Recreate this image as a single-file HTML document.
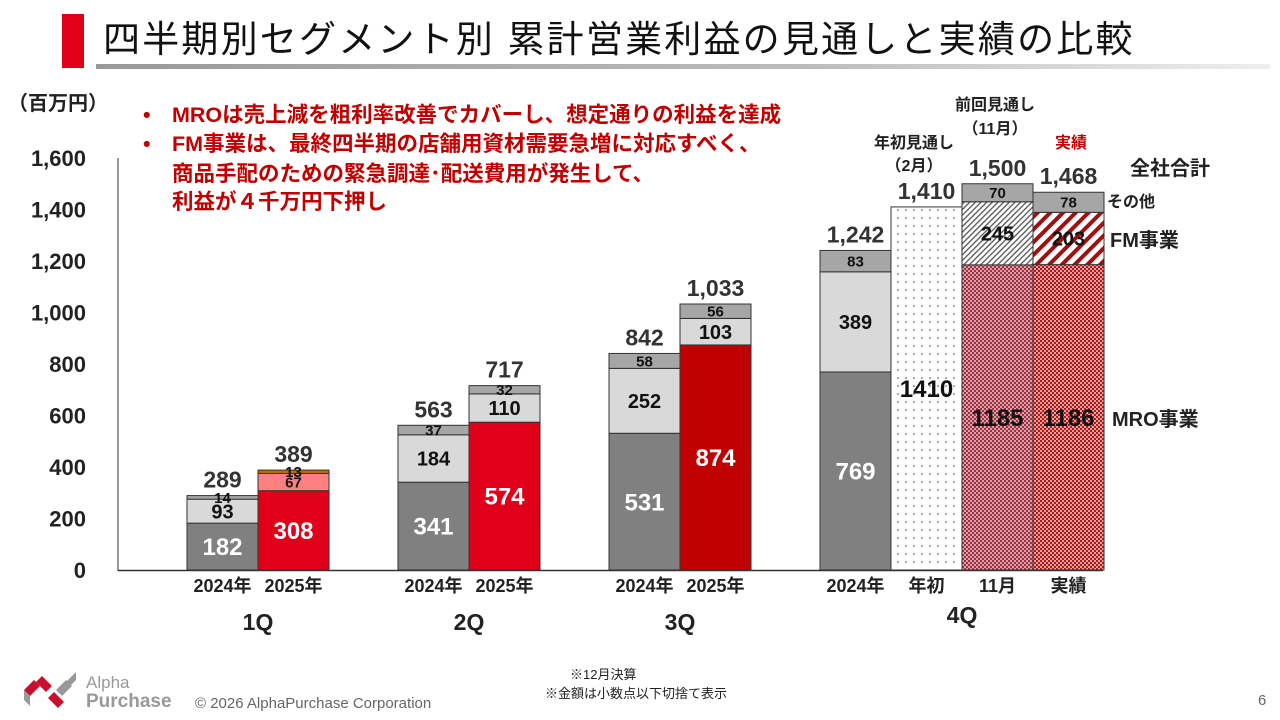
<!DOCTYPE html>
<html><head><meta charset="utf-8"><style>
body{margin:0;background:#fff;}
svg{display:block;font-family:"Liberation Sans","Noto Sans CJK JP",sans-serif;}
</style></head><body>
<svg id="chart" width="1280" height="720" viewBox="0 0 1280 720">
<defs>
<linearGradient id="lg" x1="0" x2="1"><stop offset="0" stop-color="#999"/><stop offset="0.6" stop-color="#bbb"/><stop offset="1" stop-color="#eee"/></linearGradient>
<pattern id="dots" width="8" height="8" patternUnits="userSpaceOnUse"><rect width="8" height="8" fill="#fff"/><circle cx="2" cy="2" r="0.8" fill="#444"/></pattern>
<pattern id="hatchFine" width="4" height="4" patternUnits="userSpaceOnUse" patternTransform="rotate(45)"><rect width="4" height="4" fill="#fff"/><rect width="1.3" height="4" fill="#555"/></pattern>
<pattern id="hatchRed" width="9" height="9" patternUnits="userSpaceOnUse" patternTransform="rotate(45)"><rect width="9" height="9" fill="#fff"/><rect width="4" height="9" fill="#a01010"/></pattern>
<pattern id="checkPink" width="4" height="4" patternUnits="userSpaceOnUse"><rect width="4" height="4" fill="#d8a0a8"/><rect width="2" height="2" fill="#a03040"/><rect x="2" y="2" width="2" height="2" fill="#a03040"/></pattern>
<pattern id="checkRed" width="4" height="4" patternUnits="userSpaceOnUse"><rect width="4" height="4" fill="#e8a0a0"/><rect width="2" height="2" fill="#b01818"/><rect x="2" y="2" width="2" height="2" fill="#b01818"/></pattern>
</defs>
<rect x="62" y="14" width="22" height="54" fill="#e0001a"/>
<text x="103" y="52" font-size="37" letter-spacing="2.2" fill="#111">四半期別セグメント別 累計営業利益の見通しと実績の比較</text>
<rect x="96" y="64" width="1174" height="5" fill="url(#lg)"/>
<text x="8" y="110" font-size="20" font-weight="bold" fill="#222">（百万円）</text>
<g font-size="21.5" font-weight="bold" fill="#c00000">
<text x="143" y="122">•</text><text x="172" y="122">MROは売上減を粗利率改善でカバーし、想定通りの利益を達成</text>
<text x="143" y="151">•</text><text x="172" y="151">FM事業は、最終四半期の店舗用資材需要急増に対応すべく、</text>
<text x="172" y="181">商品手配のための緊急調達･配送費用が発生して、</text>
<text x="172" y="209">利益が４千万円下押し</text>
</g>
<g id="yaxis"></g>
<g id="bars"></g>
<line x1="118" y1="570.5" x2="1103" y2="570.5" stroke="#333" stroke-width="1.5"/>
<line x1="118" y1="158" x2="118" y2="571" stroke="#333" stroke-width="1"/>
<g id="xlabels" font-size="18" font-weight="bold" fill="#222"></g>
<g font-size="16" font-weight="bold" fill="#222" text-anchor="middle">
<text x="914" y="148">年初見通し</text><text x="914" y="171">（2月）</text>
<text x="995" y="110">前回見通し</text><text x="995" y="134">（11月）</text>
<text x="1071" y="148" fill="#c00000">実績</text>
</g>
<g font-size="20" font-weight="bold" fill="#222">
<text x="1130" y="175">全社合計</text>
<text x="1107" y="207" font-size="16">その他</text>
<text x="1110" y="247">FM事業</text>
<text x="1112" y="426">MRO事業</text>
</g>
<g>
<polygon points="24,690 34,680 40,686 30,696" fill="#c8102e"/><polygon points="24,690 30,696 30,706 24,700" fill="#999"/>
<polygon points="42,676 52,686 46,692 36,682" fill="#c8102e"/><polygon points="56,690 66,680 72,686 62,696" fill="#999"/>
<polygon points="48,698 58,708 64,702 54,692" fill="#c8102e"/><polygon points="66,682 76,672 76,680 70,686" fill="#999"/>
<text x="86" y="688" font-size="17" fill="#999">Alpha</text>
<text x="86" y="707" font-size="19" font-weight="bold" fill="#999">Purchase</text>
<text x="195" y="708" font-size="15" fill="#666">© 2026 AlphaPurchase Corporation</text>
</g>
<text x="570" y="679" font-size="13" fill="#222">※12月決算</text>
<text x="545" y="698" font-size="13" fill="#222">※金額は小数点以下切捨て表示</text>
<text x="1258" y="705" font-size="15" fill="#666">6</text>
</svg>
<script>
const yTicks=[0,200,400,600,800,1000,1200,1400,1600];
const yTickLabels=["0","200","400","600","800","1,000","1,200","1,400","1,600"];
const barNames=["1Q-2024","1Q-2025","2Q-2024","2Q-2025","3Q-2024","3Q-2025","4Q-2024","4Q-plan-feb","4Q-plan-nov","4Q-actual"];
const mroValues=[182,308,341,574,531,874,769,1410,1185,1186];
const fmValues=[93,67,184,110,252,103,389,0,245,203];
const otherValues=[14,13,37,32,58,56,83,0,70,78];
const totalLabels=["289","389","563","717","842","1,033","1,242","1,410","1,500","1,468"];
const groupLabels=["1Q","2Q","3Q","4Q"];
const yearLabels=["2024年","2025年","2024年","2025年","2024年","2025年","2024年","年初","11月","実績"];
const NS="http://www.w3.org/2000/svg";
const y0=570,pxPer=412/1600;
const Y=v=>y0-v*pxPer;
const barW=71;
const barX=i=>{const g=Math.floor(i/2);if(i<6)return 187+g*211+(i%2)*barW;return 820+(i-6)*barW;};
const styles=[
 {m:"#808080",f:"#d9d9d9",o:"#a6a6a6",mt:"#fff"},
 {m:"#e0001a",f:"#ff8080",o:"#c07000",mt:"#fff"},
 {m:"#808080",f:"#d9d9d9",o:"#a6a6a6",mt:"#fff"},
 {m:"#e0001a",f:"#d9d9d9",o:"#a6a6a6",mt:"#fff"},
 {m:"#808080",f:"#d9d9d9",o:"#a6a6a6",mt:"#fff"},
 {m:"#c00000",f:"#d9d9d9",o:"#a6a6a6",mt:"#fff"},
 {m:"#808080",f:"#d9d9d9",o:"#a6a6a6",mt:"#fff"},
 {m:"url(#dots)",f:"none",o:"none",mt:"#111"},
 {m:"url(#checkPink)",f:"url(#hatchFine)",o:"#a6a6a6",mt:"#111"},
 {m:"url(#checkRed)",f:"url(#hatchRed)",o:"#a6a6a6",mt:"#111"}];
function el(t,a,p,txt){const e=document.createElementNS(NS,t);for(const k in a)e.setAttribute(k,a[k]);if(txt!==undefined)e.textContent=txt;p.appendChild(e);return e;}
const ya=document.getElementById('yaxis');
yTicks.forEach((v,i)=>{const t=el('text',{x:86,y:Y(v)+8,'font-size':22,'font-weight':'bold','text-anchor':'end',fill:'#222'},ya,yTickLabels[i]);

});
const bg=document.getElementById('bars');
barNames.forEach((n,i)=>{
 const x=barX(i),s=styles[i];
 const segs=[[mroValues[i],s.m,'mro'],[fmValues[i],s.f,'fm'],[otherValues[i],s.o,'other']];
 let base=0;
 segs.forEach(([v,fill,k],j)=>{
  if(v<=0)return;
  const r=el('rect',{x:x,y:Y(base+v),width:barW,height:v*pxPer,fill:fill,stroke:'#333','stroke-width':1},bg);
  
  
  const small=v*pxPer<22;
  const fs=j==0?24:(small?15:20);
  let col=j==0?s.mt:'#111';
  const t=el('text',{x:x+barW/2,y:Y(base+v/2)+fs*0.36,'font-size':fs,'font-weight':'bold','text-anchor':'middle',fill:col},bg,String(v));
  
  
  base+=v;
 });
 const tot=mroValues[i]+fmValues[i]+otherValues[i];
 const tt=el('text',{x:x+barW/2,y:Y(tot)-8,'font-size':23,'font-weight':'bold','text-anchor':'middle',fill:'#333'},bg,totalLabels[i]);
 
 
});
const xl=document.getElementById('xlabels');
yearLabels.forEach((l,i)=>{const t=el('text',{x:barX(i)+barW/2,y:592,'text-anchor':'middle'},xl,l);
 
 });
groupLabels.forEach((g,k)=>{const cx=k<3?187+k*211+barW:962;
 const t=el('text',{x:cx,y:k<3?630:623,'text-anchor':'middle','font-size':23},xl,g);
 
 });
</script>
</body></html>
